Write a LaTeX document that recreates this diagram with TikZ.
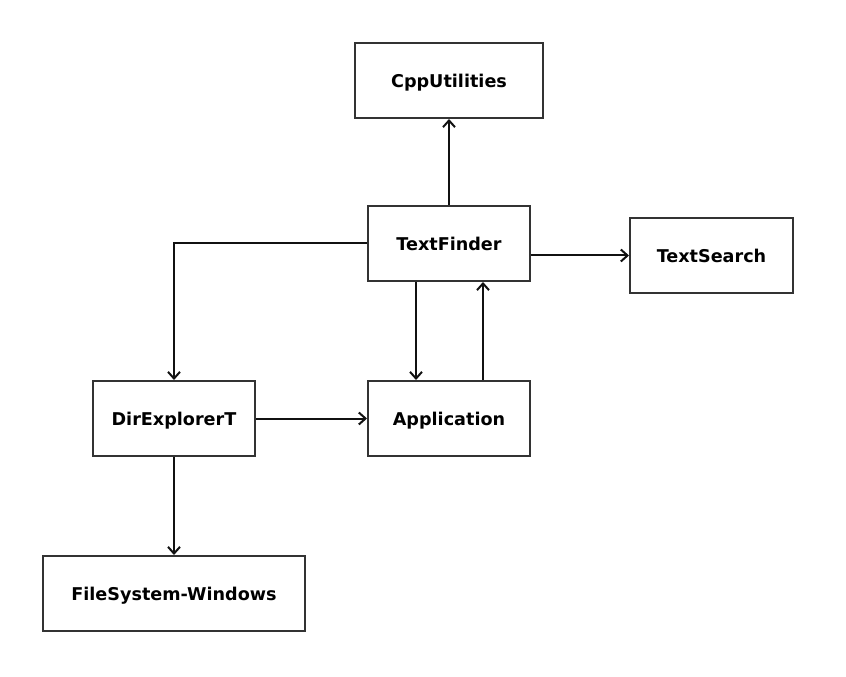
\documentclass[tikz,border=0pt]{standalone}
\usepackage{fontspec}
\setmainfont{DejaVu Sans}
\usetikzlibrary{arrows.meta}
\definecolor{boxline}{HTML}{333333}
\definecolor{arrline}{HTML}{111111}

\begin{document}
\begin{tikzpicture}[x=0.75pt, y=-0.75pt,
                    main node/.style={rectangle, draw=boxline, line width=1.5pt, minimum height=56.25pt,
                                      text height=10.4pt, text depth=0pt,
                                      font=\fontsize{13.2}{15}\selectfont\bfseries},
                    dep/.style={draw=arrline, line width=1.5pt, -{Straight Barb[length=5pt, width=9pt, line width=1.5pt]}}]

  \useasboundingbox (0, 0) rectangle (846, 677);

  \node[main node, minimum width=141pt] (cpp) at (449, 80.5) {CppUtilities};
  \node[main node, minimum width=121.5pt] (tf) at (449, 243.5) {TextFinder};
  \node[main node, minimum width=122.25pt] (ts) at (711.5, 255.5) {TextSearch};
  \node[main node, minimum width=121.5pt] (dir) at (174, 418.5) {DirExplorerT};
  \node[main node, minimum width=121.5pt] (app) at (449, 418.5) {Application};
  \node[main node, minimum width=196.5pt] (fs) at (174, 593.5) {FileSystem-Windows};

  \draw[dep] (tf.north) -- (cpp.south);
  \draw[dep] (tf.east |- ts.west) -- (ts.west);
  \draw[dep] (tf.west) -| (dir.north);
  \draw[dep] ([xshift=-24.75pt]tf.south) -- ([xshift=-24.75pt]app.north);
  \draw[dep] ([xshift=25.5pt]app.north) -- ([xshift=25.5pt]tf.south);
  \draw[dep] (dir.east) -- (app.west);
  \draw[dep] (dir.south) -- (fs.north);

\end{tikzpicture}
\end{document}
